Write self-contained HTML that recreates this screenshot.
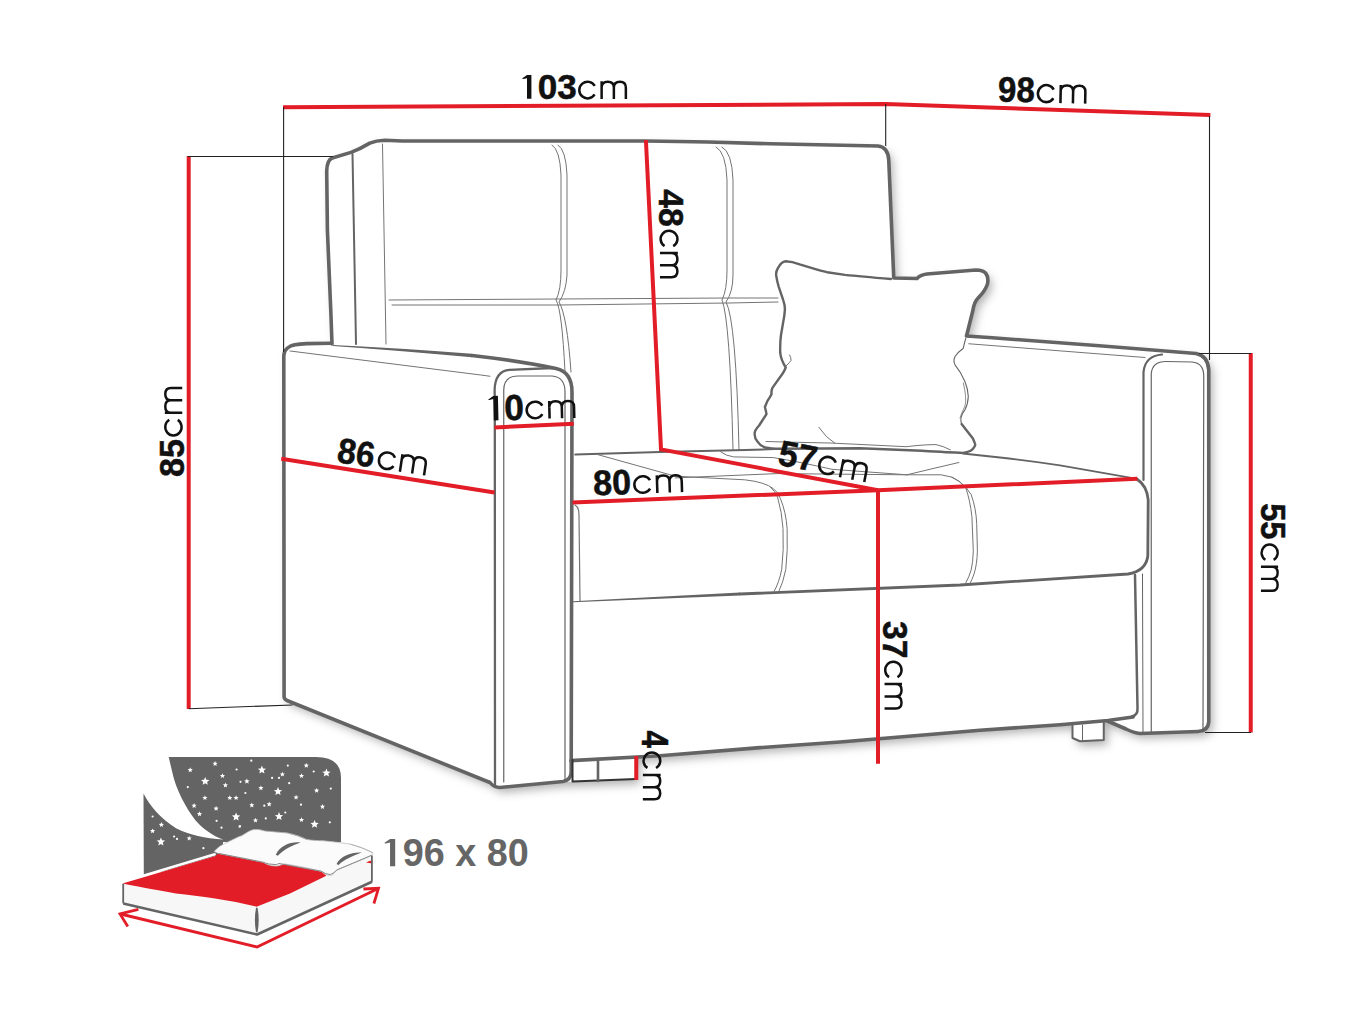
<!DOCTYPE html>
<html><head><meta charset="utf-8"><style>
html,body{margin:0;padding:0;background:#fff;}
svg{display:block;}
</style></head><body>
<svg width="1364" height="1023" viewBox="0 0 1364 1023">
<defs><filter id="sil" x="-10%" y="-10%" width="130%" height="130%"><feDropShadow dx="4" dy="5" stdDeviation="5" flood-color="#000" flood-opacity="0.3"/></filter></defs>
<rect width="1364" height="1023" fill="#fff"/>
<g><path d="M168.7,757 L316,757 Q341,757 341,778 L341,842 L223,842 L223,839.4 C213,836 202,828 195.6,820.4 C186,808 176,790 172.1,771.5 Z" fill="#646464"/><path d="M143.5,793.5 C150,806 160,818 176,828.2 C190,835 205,838.5 223,839.4 L223,860 L143.8,875 Z" fill="#646464"/><polygon points="215.10,761.00 215.81,762.72 217.67,762.87 216.26,764.08 216.69,765.88 215.10,764.92 213.51,765.88 213.94,764.08 212.53,762.87 214.39,762.72" fill="#fff"/><polygon points="190.20,767.30 190.91,769.02 192.77,769.17 191.36,770.38 191.79,772.18 190.20,771.22 188.61,772.18 189.04,770.38 187.63,769.17 189.49,769.02" fill="#fff"/><circle cx="236.6" cy="769.5" r="1.1" fill="#fff"/><circle cx="251.3" cy="760.7" r="1.1" fill="#fff"/><polygon points="205.20,776.90 206.36,779.70 209.38,779.94 207.08,781.91 207.79,784.86 205.20,783.28 202.61,784.86 203.32,781.91 201.02,779.94 204.04,779.70" fill="#fff"/><polygon points="222.50,773.20 223.21,774.92 225.07,775.07 223.66,776.28 224.09,778.08 222.50,777.12 220.91,778.08 221.34,776.28 219.93,775.07 221.79,774.92" fill="#fff"/><polygon points="246.90,778.40 247.67,780.24 249.66,780.40 248.14,781.70 248.60,783.65 246.90,782.60 245.20,783.65 245.66,781.70 244.14,780.40 246.13,780.24" fill="#fff"/><circle cx="240.5" cy="781.8" r="1.1" fill="#fff"/><polygon points="225.40,782.50 226.11,784.22 227.97,784.37 226.56,785.58 226.99,787.38 225.40,786.42 223.81,787.38 224.24,785.58 222.83,784.37 224.69,784.22" fill="#fff"/><circle cx="187.8" cy="787.1" r="1.1" fill="#fff"/><circle cx="245.4" cy="793" r="1.1" fill="#fff"/><polygon points="204.90,795.20 205.61,796.92 207.47,797.07 206.06,798.28 206.49,800.08 204.90,799.12 203.31,800.08 203.74,798.28 202.33,797.07 204.19,796.92" fill="#fff"/><polygon points="229.80,795.20 230.51,796.92 232.37,797.07 230.96,798.28 231.39,800.08 229.80,799.12 228.21,800.08 228.64,798.28 227.23,797.07 229.09,796.92" fill="#fff"/><polygon points="236.10,795.20 236.81,796.92 238.67,797.07 237.26,798.28 237.69,800.08 236.10,799.12 234.51,800.08 234.94,798.28 233.53,797.07 235.39,796.92" fill="#fff"/><polygon points="251.80,802.50 252.51,804.22 254.37,804.37 252.96,805.58 253.39,807.38 251.80,806.42 250.21,807.38 250.64,805.58 249.23,804.37 251.09,804.22" fill="#fff"/><polygon points="194.10,803.00 194.81,804.72 196.67,804.87 195.26,806.08 195.69,807.88 194.10,806.92 192.51,807.88 192.94,806.08 191.53,804.87 193.39,804.72" fill="#fff"/><polygon points="216.10,805.90 216.81,807.62 218.67,807.77 217.26,808.98 217.69,810.78 216.10,809.82 214.51,810.78 214.94,808.98 213.53,807.77 215.39,807.62" fill="#fff"/><polygon points="199.50,811.30 200.21,813.02 202.07,813.17 200.66,814.38 201.09,816.18 199.50,815.22 197.91,816.18 198.34,814.38 196.93,813.17 198.79,813.02" fill="#fff"/><polygon points="236.10,812.50 237.26,815.30 240.28,815.54 237.98,817.51 238.69,820.46 236.10,818.88 233.51,820.46 234.22,817.51 231.92,815.54 234.94,815.30" fill="#fff"/><circle cx="216.6" cy="820.8" r="1.1" fill="#fff"/><circle cx="221.5" cy="827.7" r="1.1" fill="#fff"/><circle cx="239.6" cy="826.7" r="1.1" fill="#fff"/><circle cx="152.6" cy="816.5" r="1.1" fill="#fff"/><polygon points="161.40,822.10 162.11,823.82 163.97,823.97 162.56,825.18 162.99,826.98 161.40,826.01 159.81,826.98 160.24,825.18 158.83,823.97 160.69,823.82" fill="#fff"/><polygon points="152.60,828.40 153.31,830.12 155.17,830.27 153.76,831.48 154.19,833.28 152.60,832.32 151.01,833.28 151.44,831.48 150.03,830.27 151.89,830.12" fill="#fff"/><polygon points="160.90,837.50 162.06,840.30 165.08,840.54 162.78,842.51 163.49,845.46 160.90,843.88 158.31,845.46 159.02,842.51 156.72,840.54 159.74,840.30" fill="#fff"/><circle cx="174.1" cy="836.5" r="1.1" fill="#fff"/><circle cx="177" cy="838.9" r="1.1" fill="#fff"/><polygon points="189.20,835.70 189.91,837.42 191.77,837.57 190.36,838.78 190.79,840.58 189.20,839.62 187.61,840.58 188.04,838.78 186.63,837.57 188.49,837.42" fill="#fff"/><circle cx="203.4" cy="848.2" r="1.1" fill="#fff"/><polygon points="261.90,765.60 263.06,768.40 266.08,768.64 263.78,770.61 264.49,773.56 261.90,771.98 259.31,773.56 260.02,770.61 257.72,768.64 260.74,768.40" fill="#fff"/><circle cx="287.8" cy="765.6" r="1.1" fill="#fff"/><polygon points="306.30,762.90 307.01,764.62 308.87,764.77 307.46,765.98 307.89,767.78 306.30,766.82 304.71,767.78 305.14,765.98 303.73,764.77 305.59,764.62" fill="#fff"/><circle cx="313.7" cy="771.5" r="1.1" fill="#fff"/><polygon points="326.40,768.60 327.56,771.40 330.58,771.64 328.28,773.61 328.99,776.56 326.40,774.98 323.81,776.56 324.52,773.61 322.22,771.64 325.24,771.40" fill="#fff"/><polygon points="282.40,771.70 283.11,773.42 284.97,773.57 283.56,774.78 283.99,776.58 282.40,775.62 280.81,776.58 281.24,774.78 279.83,773.57 281.69,773.42" fill="#fff"/><circle cx="272.1" cy="777.9" r="1.1" fill="#fff"/><circle cx="279" cy="777.9" r="1.1" fill="#fff"/><polygon points="301.50,773.20 302.21,774.92 304.07,775.07 302.66,776.28 303.09,778.08 301.50,777.12 299.91,778.08 300.34,776.28 298.93,775.07 300.79,774.92" fill="#fff"/><circle cx="289.2" cy="783.2" r="1.1" fill="#fff"/><polygon points="260.90,785.40 261.61,787.12 263.47,787.27 262.06,788.48 262.49,790.28 260.90,789.32 259.31,790.28 259.74,788.48 258.33,787.27 260.19,787.12" fill="#fff"/><polygon points="278.00,787.10 279.16,789.90 282.18,790.14 279.88,792.11 280.59,795.06 278.00,793.48 275.41,795.06 276.12,792.11 273.82,790.14 276.84,789.90" fill="#fff"/><polygon points="316.60,787.90 317.31,789.62 319.17,789.77 317.76,790.98 318.19,792.78 316.60,791.82 315.01,792.78 315.44,790.98 314.03,789.77 315.89,789.62" fill="#fff"/><circle cx="330.8" cy="788.6" r="1.1" fill="#fff"/><polygon points="296.10,794.70 296.81,796.42 298.67,796.57 297.26,797.78 297.69,799.58 296.10,798.62 294.51,799.58 294.94,797.78 293.53,796.57 295.39,796.42" fill="#fff"/><polygon points="269.20,801.50 269.91,803.22 271.77,803.37 270.36,804.58 270.79,806.38 269.20,805.42 267.61,806.38 268.04,804.58 266.63,803.37 268.49,803.22" fill="#fff"/><circle cx="264.3" cy="805.7" r="1.1" fill="#fff"/><circle cx="301" cy="804.7" r="1.1" fill="#fff"/><polygon points="322.50,804.00 323.21,805.72 325.07,805.87 323.66,807.08 324.09,808.88 322.50,807.92 320.91,808.88 321.34,807.08 319.93,805.87 321.79,805.72" fill="#fff"/><circle cx="285.3" cy="812.5" r="1.1" fill="#fff"/><polygon points="279.00,812.10 280.16,814.90 283.18,815.14 280.88,817.11 281.59,820.06 279.00,818.48 276.41,820.06 277.12,817.11 274.82,815.14 277.84,814.90" fill="#fff"/><polygon points="255.50,817.70 256.21,819.42 258.07,819.57 256.66,820.78 257.09,822.58 255.50,821.62 253.91,822.58 254.34,820.78 252.93,819.57 254.79,819.42" fill="#fff"/><circle cx="265.8" cy="818.4" r="1.1" fill="#fff"/><polygon points="301.50,817.20 302.21,818.92 304.07,819.07 302.66,820.28 303.09,822.08 301.50,821.12 299.91,822.08 300.34,820.28 298.93,819.07 300.79,818.92" fill="#fff"/><polygon points="314.60,819.90 315.76,822.70 318.78,822.94 316.48,824.91 317.19,827.86 314.60,826.28 312.01,827.86 312.72,824.91 310.42,822.94 313.44,822.70" fill="#fff"/><circle cx="329.8" cy="822.3" r="1.1" fill="#fff"/><circle cx="239.9" cy="826.2" r="1.1" fill="#fff"/><path d="M122.5,883.6 L215.6,855.9 L372,855 L372,882 L257.1,934.5 L123.2,903.4 Z" fill="#f7f7f7"/><path d="M122.5,882 L215.6,854" stroke="#fff" stroke-width="2.5" fill="none"/><path d="M122.5,883.6 L215.6,855.9 L218.2,853.6 L263.1,862.5 L268.3,865 L276.3,866.3 L284.2,864.3 L321.1,871.6 L326.4,875.8 L290,893.5 L256.5,906.7 C230,900 200,896 176,893.5 C150,889 135,886 122.5,883.6 Z" fill="#e31d27"/><path d="M214.2,851.4 C218,847 222,845 224.8,843.5 C232,840 238,837 242,835.6 C248,832 251,829.6 255.1,829.6 C259,829 262,830.5 264.4,830.9 C275,832 282,832.5 286.8,832.9 C296,835 302,837.5 306.6,839.5 C312,840.5 318,840.6 323.8,840.8 C335,842 343,843 350.2,844.1 C360,847 368,850 372.6,852.7 C373,854 372,855 371.3,855.4 C360,861 346,866 337,869.9 C335,872 333,874.8 331.7,875.1 C329,875.5 327.5,875 326.4,874.5 C324,873 322.5,871.7 321.1,871.2 C308,868 296,865.5 284.2,863.9 C281,864.5 279,866 276.3,865.9 C273,866 270,865.5 268.3,864.6 C266,864 264.5,862.8 263.1,862 C248,859 233,856 218.2,853.4 Z" fill="#fbfbfb" stroke="#bdbdbd" stroke-width="0.8"/><path d="M275.8,854.8 C280,846 290,841.5 300.5,842.5 C292,845.5 283,850 277.8,855.8 Z" fill="#646464"/><path d="M218.2,853.4 L263.1,862.3 Q268,864.6 276.3,864.6 Q278,864 279,863.5 L321.1,871.2 Q326,874.5 330.4,874.6 Q334,873 337,869.9 L371.3,855.4" fill="none" stroke="#8a8a8a" stroke-width="1"/><path d="M286.8,832.9 Q298,835 306.6,839.5 M350.2,844.1 Q362,847 372.6,852.7" fill="none" stroke="#b0b0b0" stroke-width="0.9"/><path d="M336.5,864 C341,856 351,852 361.8,852.6 C353,855.5 344,860 338.5,865 Z" fill="#646464"/><path d="M366,862.5 Q370,860.5 372.6,860.6 L372,863.5 Z" fill="#e31d27"/><path d="M123.2,883.8 L123.2,903.4" fill="none" stroke="#646464" stroke-width="1.8"/><path d="M123.2,903.4 L257.1,934.5 L372,881.7" fill="none" stroke="#646464" stroke-width="2.6" stroke-linejoin="round"/><path d="M371.9,855.4 L371.9,881.7" fill="none" stroke="#646464" stroke-width="1.8"/><path d="M256.8,908 Q254.6,920 256.8,932 Q259,920 256.8,908 Z" fill="#646464" stroke="#646464" stroke-width="1.6"/><path d="M120.5,914 L257.1,947 L378.2,888.5" fill="none" stroke="#e31d27" stroke-width="3"/><path d="M138.4,909.4 L120,914 L127.8,926.5" fill="none" stroke="#e31d27" stroke-width="2.8" stroke-linejoin="miter"/><path d="M363.4,889 L378.5,888.3 L373.9,903.5" fill="none" stroke="#e31d27" stroke-width="2.8" stroke-linejoin="miter"/></g>
<path d="M332,344 L331,316 L327.4,229.8 L326.7,171 Q327,160 332.3,158 L351,152.4 Q360,149 369.8,143.1 Q376,140.5 384.7,140.2 L402,141 L645,141 Q680,141.3 708,142 L770,143.8 L830,145 L878,146 Q888,147 888.75,160 L893.75,278 L917,278.5 Q920,275 927,274 L976,270 Q990,270 987.5,284 Q985,291 979,297 Q974,302 973,310 L966.5,336 Q1080,344 1196,353.5 Q1208,356 1208.75,370 L1208.75,722 Q1208,731 1198,731.5 L1140,733.5 Q1134,733 1126,729 L1104,721 L1104,740 L1080,741.25 L1072.5,738 L1072.5,725 L1060,724.7 L980,730.2 L840,742 L760,747.6 L660,755.8 L636,757 L636,779 L572,781.5 L563,781.5 L500,787.5 Q494,787.5 490,782.5 L287,700.5 Q284.5,699.5 284.1,697 L283.8,356 Q284,349.5 289.8,346.5 Q292,344.5 306.7,343.6 Z" fill="#fff" filter="url(#sil)"/>
<g><path d="M332,344 L331,316 L327.4,229.8 L326.7,171 Q327,160 332.3,158 L351,152.4 Q360,149 369.8,143.1 Q376,140.5 384.7,140.2 L402,141 L645,141 Q680,141.3 708,142 L770,143.8 L830,145 L878,146 Q888,147 888.75,160 L893.75,278 L917,278.5 Q920,275 927,274 L976,270 Q990,270 987.5,284 Q985,291 979,297 Q974,302 973,310 L966.5,336 Q1080,344 1196,353.5 Q1208,356 1208.75,370 L1208.75,722 Q1208,731 1198,731.5 L1140,733.5 Q1134,733 1126,729 L1107.5,721" fill="none" stroke="#646464" stroke-width="3.6" stroke-linecap="round" stroke-linejoin="round"/><path d="M331,343.3 L306.7,343.6 Q292,344.5 289.8,346.5 Q284,349.5 283.8,356 L284.1,697 Q284.5,699.5 287,700.5 L490,782.5 Q494,787.5 500,787.5 L563,781.5 Q571,780 571.2,772 L572,392 Q572,372 556,368.5 Q520,361 472,355.5" fill="none" stroke="#646464" stroke-width="3.6" stroke-linecap="round" stroke-linejoin="round"/><path d="M571,760.6 L660,755.8 L760,747.6 L840,742 L980,730.2 L1060,724.7 L1108,720.5 L1133,717" fill="none" stroke="#646464" stroke-width="3.6" stroke-linecap="round" stroke-linejoin="round"/><path d="M740,594 L960,585 L1128,574 Q1146,571 1147.8,556 L1148.2,500 Q1147,486 1137.5,479.5" fill="none" stroke="#646464" stroke-width="2.8" stroke-linecap="round" stroke-linejoin="round"/><path d="M573,601.3 L740,592.4 L740,595.6 L573,602.3 Z" fill="#646464"/><path d="M333,344.9 Q400,348 472,353.7 L472,357.3 Q400,350.5 333,345.9 Z" fill="#646464"/></g>
<g><path d="M352.5,154 L356,344" fill="none" stroke="#646464" stroke-width="2.0" stroke-linecap="round" stroke-linejoin="round"/><path d="M382.5,144 L386,344" fill="none" stroke="#747474" stroke-width="1.0" stroke-linecap="round" stroke-linejoin="round"/><path d="M389,300 L558,299 L729,298 L778,298" fill="none" stroke="#747474" stroke-width="1.0" stroke-linecap="round" stroke-linejoin="round"/><path d="M392,305 L558,305 L729,303 L778,302" fill="none" stroke="#747474" stroke-width="1.0" stroke-linecap="round" stroke-linejoin="round"/><path d="M552,145 Q560,150 561,175 L561,270 Q561,290 556,300 Q562,310 565,372" fill="none" stroke="#747474" stroke-width="1.0" stroke-linecap="round" stroke-linejoin="round"/><path d="M558,145 Q566,150 567,175 L567,275 Q566,292 559,302 Q567,315 571,372" fill="none" stroke="#747474" stroke-width="1.0" stroke-linecap="round" stroke-linejoin="round"/><path d="M716,147 Q726,152 727,180 L727,270 Q727,290 722,300 Q730,320 733,450" fill="none" stroke="#747474" stroke-width="1.0" stroke-linecap="round" stroke-linejoin="round"/><path d="M722,147 Q732,152 733,180 L733,275 Q733,292 726,302 Q736,320 739,450" fill="none" stroke="#747474" stroke-width="1.0" stroke-linecap="round" stroke-linejoin="round"/><path d="M290,351 L480.75,375 L490,376.25" fill="none" stroke="#747474" stroke-width="1.0" stroke-linecap="round" stroke-linejoin="round"/><path d="M968.75,343.75 L1145,357.5" fill="none" stroke="#747474" stroke-width="1.0" stroke-linecap="round" stroke-linejoin="round"/><path d="M575.3,454.6 L659.8,452 L745,450.1 L775,449" fill="none" stroke="#646464" stroke-width="2.0" stroke-linecap="round" stroke-linejoin="round"/><path d="M962.7,453.5 L1000,457.5 Q1030,461 1060,465.3 L1137,478.9" fill="none" stroke="#646464" stroke-width="1.8" stroke-linecap="round" stroke-linejoin="round"/><path d="M597.7,454.6 L675.3,476.2 L744.7,479.8 Q765,482 773.4,488.7 Q778,492 780.3,498.3 Q786,512 787.1,528.4 Q788,550 785.8,569.4 Q783,583 778.9,591.3" fill="none" stroke="#747474" stroke-width="1.0" stroke-linecap="round" stroke-linejoin="round"/><path d="M770.7,487.4 Q775,491 777.5,497 Q782,512 783,528.4 Q784,550 781.7,569.4 Q779,583 774.1,591.3" fill="none" stroke="#747474" stroke-width="1.0" stroke-linecap="round" stroke-linejoin="round"/><path d="M720.5,451.7 Q726,456 733.7,456.9 L773.3,457.6 Q800,462 832,469.3 L906.9,474.8" fill="none" stroke="#747474" stroke-width="1.0" stroke-linecap="round" stroke-linejoin="round"/><path d="M675.3,477.9 L777,473.6 L906.9,474.8 Q935,468 958.9,462.5" fill="none" stroke="#747474" stroke-width="1.0" stroke-linecap="round" stroke-linejoin="round"/><path d="M906.9,474.8 L941.1,474.8 Q952,476 958.9,481 Q967,487 971.2,494.7 Q976,508 976.7,523.4 L977.4,550.8 Q977,565 974,574 Q972,580 969.9,583.6" fill="none" stroke="#747474" stroke-width="1.0" stroke-linecap="round" stroke-linejoin="round"/><path d="M952,476.9 Q960,481 965.8,487.8 Q970,500 971.9,516.6 L973.3,550.8 Q973,562 971.2,569.9 Q969,577 965.8,582.9" fill="none" stroke="#747474" stroke-width="1.0" stroke-linecap="round" stroke-linejoin="round"/><path d="M575,505 Q579,507 579,515 L580,601" fill="none" stroke="#747474" stroke-width="1.2" stroke-linecap="round" stroke-linejoin="round"/><path d="M495,787 L494.8,400 L494.6,390 Q495,371 509.6,369.8 L553,368" fill="none" stroke="#646464" stroke-width="2.3" stroke-linecap="round" stroke-linejoin="round"/><path d="M503.75,782 L503.75,390 Q504,376 518,376 L552,376 Q565,377 565,392 L565,781" fill="none" stroke="#646464" stroke-width="1.2" stroke-linecap="round" stroke-linejoin="round"/><path d="M1143.5,480 L1143.5,372 Q1145,356 1162,354.5" fill="none" stroke="#646464" stroke-width="2.2" stroke-linecap="round" stroke-linejoin="round"/><path d="M1142.5,574 L1143,733" fill="none" stroke="#646464" stroke-width="1.0" stroke-linecap="round" stroke-linejoin="round"/><path d="M1151.25,733 L1151.25,374 Q1152,361.5 1166,361.5 L1192,362 Q1203.75,363 1203.75,376 L1203,732" fill="none" stroke="#646464" stroke-width="1.2" stroke-linecap="round" stroke-linejoin="round"/><path d="M1135,575 L1137.5,708 Q1138,715 1132,716.5" fill="none" stroke="#646464" stroke-width="2.5" stroke-linecap="round" stroke-linejoin="round"/><path d="M572.5,760 L572.5,781.5 L636,779" fill="none" stroke="#333" stroke-width="2.0" stroke-linecap="round" stroke-linejoin="round"/><path d="M598,759 L598,781" fill="none" stroke="#646464" stroke-width="2.6" stroke-linecap="round" stroke-linejoin="round"/><path d="M1072.5,724 L1072.5,738 L1080,741.25 L1103.75,740 L1103.75,721" fill="none" stroke="#646464" stroke-width="2.0" stroke-linecap="round" stroke-linejoin="round"/><path d="M1082.5,725 L1082.5,741" fill="none" stroke="#646464" stroke-width="1.0" stroke-linecap="round" stroke-linejoin="round"/><path d="M965.8,338.2 Q964,345 963.3,348.2 Q958,352 955,356.5 Q953,361 955,364.8 Q961,372 964.9,381.5 Q968,389 968.3,396.4 Q968,404 964.9,409.8 Q961,415 960.8,419.7 Q961,422 961.6,424.1" fill="none" stroke="#646464" stroke-width="1.1" stroke-linecap="round" stroke-linejoin="round"/><path d="M963.3,383 Q967,398 965,406 Q961,414 960,418" fill="none" stroke="#747474" stroke-width="0.8" stroke-linecap="round" stroke-linejoin="round"/><path d="M818.9,427.3 Q826,438 834.7,443.1" fill="none" stroke="#646464" stroke-width="0.9" stroke-linecap="round" stroke-linejoin="round"/><path d="M766,441.5 Q800,442.5 830,443 L906.2,446.7 Q925,444.5 936,444.6 Q943,446 950.3,449.8" fill="none" stroke="#646464" stroke-width="0.9" stroke-linecap="round" stroke-linejoin="round"/><path d="M786,366 Q790,362 791.1,360.5 Q791,357 789.6,355" fill="none" stroke="#646464" stroke-width="0.9" stroke-linecap="round" stroke-linejoin="round"/></g>
<path d="M891,279 Q860,276.5 845,274.9 L827.1,272.2 Q820,270.5 815.4,269.1 Q805,266 799.7,264.4 Q792,261.5 785.7,261.3 Q781,262 778,268 Q775.5,272 776.3,276 Q777,281 778.6,286.3 L783.3,300.3 Q785,305 784.9,309.7 Q784.5,316 783.3,321.5 L781,335 Q780,342 780.2,352.7 Q781,360 785.7,367.5 Q784.5,371 782.5,373.8 L772.4,387.9 Q771,391 771.6,394.1 Q770,397.5 767.7,400.4 L764.9,407 Q766,411 766.5,414.1 L759.1,425.5 Q754,431 754.7,434.3 Q754.5,438 757.3,441.3 Q760,445.5 765.2,447.5 Q771,448.7 780.2,448.8 L860,448.2 L921.6,450.8 Q950,452.5 962.7,452.9 Q970,451.5 971.9,449.8 Q976,446 975,443.6 Q974,441 972.9,438.5 L961.6,424.1" fill="none" stroke="#646464" stroke-width="2.4" stroke-linecap="round" stroke-linejoin="round"/>
<g><path d="M283,107.2 L885.5,104 L1210.4,115" fill="none" stroke="#e31d27" stroke-width="4.0"/><path d="M188.7,156 L188.7,709" fill="none" stroke="#e31d27" stroke-width="4.0"/><path d="M1250.75,353 L1250.75,732.5" fill="none" stroke="#e31d27" stroke-width="4.0"/><path d="M645.9,140 L661,449.4 L878,490.3" fill="none" stroke="#e31d27" stroke-width="4.0"/><path d="M572.5,502.5 L878,490.3 L1137.5,478.75" fill="none" stroke="#e31d27" stroke-width="4.0"/><path d="M878,490.3 L878,763.75" fill="none" stroke="#e31d27" stroke-width="4.0"/><path d="M494.5,427.5 L573.75,423.75" fill="none" stroke="#e31d27" stroke-width="4.0"/><path d="M281.25,458.75 L494.5,492.5" fill="none" stroke="#e31d27" stroke-width="4.0"/><path d="M636.25,756 L636.25,780" fill="none" stroke="#e31d27" stroke-width="4.0"/><path d="M283.6,107 L283.6,352" fill="none" stroke="#222" stroke-width="1.1"/><path d="M885.7,104 L885.7,146" fill="none" stroke="#222" stroke-width="1.1"/><path d="M1209.5,116 L1209.5,360" fill="none" stroke="#222" stroke-width="1.1"/><path d="M188,156.5 L333,156.5" fill="none" stroke="#222" stroke-width="1.1"/><path d="M188.75,708.75 L292.5,705" fill="none" stroke="#222" stroke-width="1.1"/><path d="M1199,353.5 L1251.25,353.5" fill="none" stroke="#222" stroke-width="1.1"/><path d="M1205,732.5 L1251,732.5" fill="none" stroke="#222" stroke-width="1.1"/></g>
<g transform="translate(0,0) rotate(0)"><polygon points="522.00,78.60 527.00,75.10 531.40,75.10 531.40,98.80 527.00,98.80 527.00,78.20 523.30,79.05" fill="#111"/><text transform="translate(537.71,99.00) scale(0.9925,1)" font-family="Liberation Sans, sans-serif" font-weight="bold" font-size="35.38" fill="#111" stroke="#111" stroke-width="0.5">03</text><path transform="translate(578.04,80.46) scale(0.9992,1.0021)" d="M16.75,5.42 A8.3,8.3 0 1 0 16.6,13.97 M23.61,18.54 V0.84 M23.61,7.04 C23.61,2.54 25.96,1.29 29.76,1.29 C33.46,1.29 35.86,3.04 35.86,7.04 V18.54 M35.86,7.04 C35.86,3.04 38.26,1.29 41.96,1.29 C45.66,1.29 47.86,3.04 47.86,7.04 V18.54" fill="none" stroke="#111" stroke-width="2.5"/></g>
<g transform="translate(998.9,101.8) rotate(1.2)"><text transform="translate(-1.15,-0.34) scale(0.9360,1)" font-family="Liberation Sans, sans-serif" font-weight="bold" font-size="35.31" fill="#111" stroke="#111" stroke-width="0.5">98</text><path transform="translate(37.50,-19.00) scale(1.0183,1.0262)" d="M16.75,5.42 A8.3,8.3 0 1 0 16.6,13.97 M23.61,18.54 V0.84 M23.61,7.04 C23.61,2.54 25.96,1.29 29.76,1.29 C33.46,1.29 35.86,3.04 35.86,7.04 V18.54 M35.86,7.04 C35.86,3.04 38.26,1.29 41.96,1.29 C45.66,1.29 47.86,3.04 47.86,7.04 V18.54" fill="none" stroke="#111" stroke-width="2.5"/></g>
<g transform="translate(488.5,420.6) rotate(-1.4)"><polygon points="0.00,-20.97 5.32,-24.60 10.00,-24.60 10.00,-0.00 5.32,-0.00 5.32,-21.38 1.38,-20.50" fill="#111"/><text transform="translate(15.89,-0.05) scale(0.9866,1)" font-family="Liberation Sans, sans-serif" font-weight="bold" font-size="36.02" fill="#111" stroke="#111" stroke-width="0.5">0</text><path transform="translate(37.10,-19.00) scale(1.0183,0.9948)" d="M16.75,5.42 A8.3,8.3 0 1 0 16.6,13.97 M23.61,18.54 V0.84 M23.61,7.04 C23.61,2.54 25.96,1.29 29.76,1.29 C33.46,1.29 35.86,3.04 35.86,7.04 V18.54 M35.86,7.04 C35.86,3.04 38.26,1.29 41.96,1.29 C45.66,1.29 47.86,3.04 47.86,7.04 V18.54" fill="none" stroke="#111" stroke-width="2.5"/></g>
<g transform="translate(594.7,495.6) rotate(-1.9)"><text transform="translate(-1.08,-0.34) scale(0.9671,1)" font-family="Liberation Sans, sans-serif" font-weight="bold" font-size="35.31" fill="#111" stroke="#111" stroke-width="0.5">80</text><path transform="translate(38.70,-19.00) scale(1.0183,0.9948)" d="M16.75,5.42 A8.3,8.3 0 1 0 16.6,13.97 M23.61,18.54 V0.84 M23.61,7.04 C23.61,2.54 25.96,1.29 29.76,1.29 C33.46,1.29 35.86,3.04 35.86,7.04 V18.54 M35.86,7.04 C35.86,3.04 38.26,1.29 41.96,1.29 C45.66,1.29 47.86,3.04 47.86,7.04 V18.54" fill="none" stroke="#111" stroke-width="2.5"/></g>
<g transform="translate(337,462.6) rotate(8.5)"><text transform="translate(-1.06,-0.34) scale(0.9490,1)" font-family="Liberation Sans, sans-serif" font-weight="bold" font-size="35.31" fill="#111" stroke="#111" stroke-width="0.5">86</text><path transform="translate(39.80,-18.80) scale(1.0061,1.0000)" d="M16.75,5.42 A8.3,8.3 0 1 0 16.6,13.97 M23.61,18.54 V0.84 M23.61,7.04 C23.61,2.54 25.96,1.29 29.76,1.29 C33.46,1.29 35.86,3.04 35.86,7.04 V18.54 M35.86,7.04 C35.86,3.04 38.26,1.29 41.96,1.29 C45.66,1.29 47.86,3.04 47.86,7.04 V18.54" fill="none" stroke="#111" stroke-width="2.5"/></g>
<g transform="translate(775.7,464.6) rotate(11)"><text transform="translate(0.93,-0.35) scale(0.9684,1)" font-family="Liberation Sans, sans-serif" font-weight="bold" font-size="35.83" fill="#111" stroke="#111" stroke-width="0.5">57</text><path transform="translate(41.50,-19.00) scale(1.0183,1.0366)" d="M16.75,5.42 A8.3,8.3 0 1 0 16.6,13.97 M23.61,18.54 V0.84 M23.61,7.04 C23.61,2.54 25.96,1.29 29.76,1.29 C33.46,1.29 35.86,3.04 35.86,7.04 V18.54 M35.86,7.04 C35.86,3.04 38.26,1.29 41.96,1.29 C45.66,1.29 47.86,3.04 47.86,7.04 V18.54" fill="none" stroke="#111" stroke-width="2.5"/></g>
<g transform="translate(0,0) rotate(90)"><text transform="translate(189.19,-658.65) scale(0.9485,1)" font-family="Liberation Sans, sans-serif" font-weight="bold" font-size="35.59" fill="#111" stroke="#111" stroke-width="0.5">48</text><path transform="translate(229.50,-678.70) scale(0.9959,1.0105)" d="M16.75,5.42 A8.3,8.3 0 1 0 16.6,13.97 M23.61,18.54 V0.84 M23.61,7.04 C23.61,2.54 25.96,1.29 29.76,1.29 C33.46,1.29 35.86,3.04 35.86,7.04 V18.54 M35.86,7.04 C35.86,3.04 38.26,1.29 41.96,1.29 C45.66,1.29 47.86,3.04 47.86,7.04 V18.54" fill="none" stroke="#111" stroke-width="2.5"/></g>
<g transform="translate(0,0) rotate(90)"><text transform="translate(620.93,-883.30) scale(0.9507,1)" font-family="Liberation Sans, sans-serif" font-weight="bold" font-size="35.52" fill="#111" stroke="#111" stroke-width="0.5">37</text><path transform="translate(660.40,-902.80) scale(1.0041,0.9843)" d="M16.75,5.42 A8.3,8.3 0 1 0 16.6,13.97 M23.61,18.54 V0.84 M23.61,7.04 C23.61,2.54 25.96,1.29 29.76,1.29 C33.46,1.29 35.86,3.04 35.86,7.04 V18.54 M35.86,7.04 C35.86,3.04 38.26,1.29 41.96,1.29 C45.66,1.29 47.86,3.04 47.86,7.04 V18.54" fill="none" stroke="#111" stroke-width="2.5"/></g>
<g transform="translate(0,0) rotate(90)"><text transform="translate(503.20,-1260.74) scale(0.9452,1)" font-family="Liberation Sans, sans-serif" font-weight="bold" font-size="34.54" fill="#111" stroke="#111" stroke-width="0.5">55</text><path transform="translate(543.30,-1278.90) scale(0.9919,0.9686)" d="M16.75,5.42 A8.3,8.3 0 1 0 16.6,13.97 M23.61,18.54 V0.84 M23.61,7.04 C23.61,2.54 25.96,1.29 29.76,1.29 C33.46,1.29 35.86,3.04 35.86,7.04 V18.54 M35.86,7.04 C35.86,3.04 38.26,1.29 41.96,1.29 C45.66,1.29 47.86,3.04 47.86,7.04 V18.54" fill="none" stroke="#111" stroke-width="2.5"/></g>
<g transform="translate(0,0) rotate(90)"><text transform="translate(730.43,-641.90) scale(0.8597,1)" font-family="Liberation Sans, sans-serif" font-weight="bold" font-size="36.48" fill="#111" stroke="#111" stroke-width="0.5">4</text><path transform="translate(751.20,-661.50) scale(1.0041,1.0052)" d="M16.75,5.42 A8.3,8.3 0 1 0 16.6,13.97 M23.61,18.54 V0.84 M23.61,7.04 C23.61,2.54 25.96,1.29 29.76,1.29 C33.46,1.29 35.86,3.04 35.86,7.04 V18.54 M35.86,7.04 C35.86,3.04 38.26,1.29 41.96,1.29 C45.66,1.29 47.86,3.04 47.86,7.04 V18.54" fill="none" stroke="#111" stroke-width="2.5"/></g>
<g transform="translate(0,0) rotate(-90)"><text transform="translate(-477.09,183.55) scale(0.9570,1)" font-family="Liberation Sans, sans-serif" font-weight="bold" font-size="35.73" fill="#111" stroke="#111" stroke-width="0.5">85</text><path transform="translate(-436.80,164.00) scale(1.0183,0.9843)" d="M16.75,5.42 A8.3,8.3 0 1 0 16.6,13.97 M23.61,18.54 V0.84 M23.61,7.04 C23.61,2.54 25.96,1.29 29.76,1.29 C33.46,1.29 35.86,3.04 35.86,7.04 V18.54 M35.86,7.04 C35.86,3.04 38.26,1.29 41.96,1.29 C45.66,1.29 47.86,3.04 47.86,7.04 V18.54" fill="none" stroke="#111" stroke-width="2.5"/></g>
<polygon points="384.20,843.02 390.05,839.00 395.20,839.00 395.20,866.20 390.05,866.20 390.05,842.56 385.72,843.53" fill="#666"/>
<text transform="translate(402.69,865.82) scale(0.9835,1)" font-family="Liberation Sans, sans-serif" font-weight="bold" font-size="38.42" fill="#666" >96 x 80</text>
</svg></body></html>
